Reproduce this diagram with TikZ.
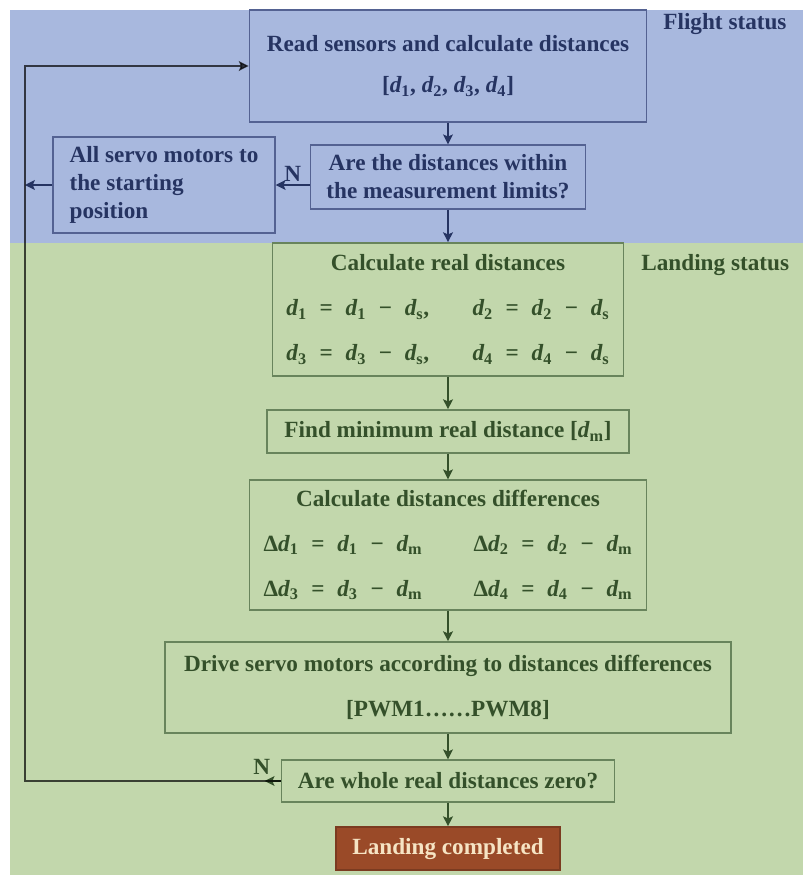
\documentclass[tikz,border=0pt]{standalone}
\usepackage{fontspec}
\setmainfont{Liberation Serif}
\usetikzlibrary{arrows.meta}

\definecolor{flightbg}{RGB}{168,184,222}
\definecolor{flightline}{RGB}{84,98,146}
\definecolor{flighttext}{RGB}{38,52,98}
\definecolor{landbg}{RGB}{194,215,172}
\definecolor{landline}{RGB}{104,132,92}
\definecolor{landtext}{RGB}{52,80,42}
\definecolor{donefill}{RGB}{154,74,40}
\definecolor{donetext}{RGB}{246,228,196}

\newcommand{\dv}[1]{{\itshape d}\textsubscript{#1}}
\newcommand{\eqsp}{\hspace{0.55em}}

\begin{document}
\begin{tikzpicture}[x=0.025cm, y=-0.025cm, >={Stealth[length=7pt, width=7pt, inset=1.5pt]}, line width=1pt,
    every node/.style={font=\bfseries\fontsize{16.5}{20}\selectfont},
    flightbox/.style={draw=flightline, text=flighttext, align=center, inner sep=2pt},
    landbox/.style={draw=landline, text=landtext, align=center, inner sep=2pt},
    flightarrow/.style={->, draw=flighttext},
    landarrow/.style={->, draw=landtext},
    loopline/.style={->, draw=black, opacity=0.7}]
    % 1. 背景区域 (最底层)
    \useasboundingbox (0,0) rectangle (803,875);
    \fill[flightbg] (10,10) rectangle (803,243);
    \fill[landbg] (10,243) rectangle (803,875);

    % 2. 飞行状态
    \node[text=flighttext, anchor=west] (flightlbl) at (658,24) {Flight status};
    \node[flightbox, minimum width=9.93cm, minimum height=2.8cm] (read) at (448,66)
        {Read sensors and calculate distances\\[9pt] [\dv1, \dv2, \dv3, \dv4]};
    \node[flightbox, minimum width=6.88cm, minimum height=1.6cm] (dist) at (448,177)
        {Are the distances within\\the measurement limits?};
    \node[flightbox, align=left, minimum width=5.55cm, minimum height=2.4cm] (servo) at (164,185)
        {All servo motors to\\the starting\\position};

    % 3. 着陆状态
    \node[text=landtext, anchor=west] (landlbl) at (636,265) {Landing status};
    \node[landbox, minimum width=8.78cm, minimum height=3.33cm] (calc) at (448,309.5)
        {Calculate real distances\\[12pt]
         \makebox[4.65cm][l]{\dv1\eqsp=\eqsp\dv1\eqsp−\eqsp\dv{s},}\dv2\eqsp=\eqsp\dv2\eqsp−\eqsp\dv{s}\\[12pt]
         \makebox[4.65cm][l]{\dv3\eqsp=\eqsp\dv3\eqsp−\eqsp\dv{s},}\dv4\eqsp=\eqsp\dv4\eqsp−\eqsp\dv{s}};
    \node[landbox, minimum width=9.05cm, minimum height=1.08cm] (find) at (448,431.5)
        {Find minimum real distance [\dv{m}]};
    \node[landbox, minimum width=9.93cm, minimum height=3.25cm] (diff) at (448,545)
        {Calculate distances differences\\[12pt]
         \makebox[5.25cm][l]{Δ\dv1\eqsp=\eqsp\dv1\eqsp−\eqsp\dv{m}}Δ\dv2\eqsp=\eqsp\dv2\eqsp−\eqsp\dv{m}\\[12pt]
         \makebox[5.25cm][l]{Δ\dv3\eqsp=\eqsp\dv3\eqsp−\eqsp\dv{m}}Δ\dv4\eqsp=\eqsp\dv4\eqsp−\eqsp\dv{m}};
    \node[landbox, minimum width=14.15cm, minimum height=2.28cm] (drive) at (448,687.5)
        {Drive servo motors according to distances differences\\[12pt] [PWM1……PWM8]};
    \node[landbox, minimum width=8.33cm, minimum height=1.05cm] (whole) at (448,781)
        {Are whole real distances zero?};
    \node[draw=donefill!80!black, fill=donefill, text=donetext,
        minimum width=5.6cm, minimum height=1.08cm] (done) at (448,848.5)
        {Landing completed};

    % 4. 连接线
    \coordinate (loopx) at (25,0);
    \draw[flightarrow] (read) -- (dist);
    \draw[flightarrow] (dist) -- (calc);
    \draw[flightarrow] (servo.east -| dist.west) -- node[above, text=flighttext, yshift=-1pt] (nup) {N} (servo.east);
    \draw[flightarrow] (servo) -- (servo.west -| loopx);
    \draw[landarrow] (calc) -- (find);
    \draw[landarrow] (find) -- (diff);
    \draw[landarrow] (diff) -- (drive);
    \draw[landarrow] (drive) -- (whole);
    \draw[landarrow] (whole) -- (done);

    % 回到读取传感器 (N 分支)
    \draw[landarrow] (whole.west) -- ++(-16,0) node[pos=1, above, text=landtext, xshift=-2pt, yshift=1pt] (nlow) {N};
    \draw[loopline] (whole.west) -- (whole.west -| loopx) |- (read.west);
\end{tikzpicture}
\end{document}
